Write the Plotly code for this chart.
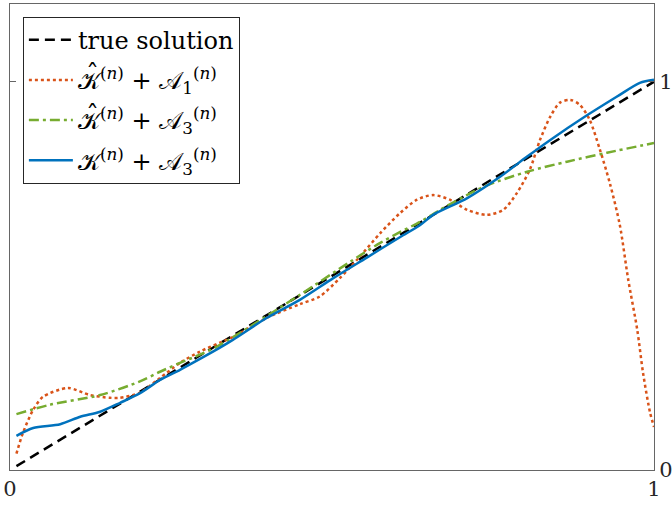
import plotly.graph_objects as go

true_x = [0.01, 1.0]
true_y = [0.01, 1.0]

k1_x = [0.01, 0.02, 0.036, 0.051, 0.09, 0.124, 0.155, 0.17, 0.2, 0.233, 0.264, 0.295, 0.326, 0.346,
        0.399, 0.45, 0.481, 0.512, 0.543, 0.575, 0.606, 0.632, 0.657, 0.683, 0.71, 0.74, 0.766,
        0.787, 0.807, 0.823, 0.839, 0.854, 0.870, 0.885, 0.9, 0.916, 0.932, 0.947, 0.96, 0.974,
        0.983, 0.994, 1.0]
k1_y = [0.042, 0.095, 0.155, 0.188, 0.211, 0.193, 0.186, 0.186, 0.198, 0.237, 0.276, 0.305, 0.328,
        0.342, 0.392, 0.427, 0.447, 0.494, 0.549, 0.61, 0.662, 0.696, 0.708, 0.696, 0.67, 0.657,
        0.67, 0.713, 0.773, 0.85, 0.91, 0.946, 0.953, 0.94, 0.902, 0.825, 0.735, 0.63, 0.49, 0.361,
        0.25, 0.147, 0.111]

k3_x = [0.01, 0.062, 0.14, 0.2, 0.233, 0.264, 0.295, 0.326, 0.45, 0.528, 0.575, 0.606, 0.637, 0.668,
        0.735, 0.803, 0.865, 0.927, 1.0]
k3_y = [0.144, 0.168, 0.193, 0.227, 0.253, 0.276, 0.297, 0.322, 0.451, 0.536, 0.585, 0.613, 0.639,
        0.67, 0.729, 0.768, 0.794, 0.817, 0.842]

b_x = [0.01, 0.036, 0.078, 0.109, 0.14, 0.171, 0.202, 0.233, 0.264, 0.295, 0.326, 0.346, 0.399, 0.45,
       0.502, 0.554, 0.606, 0.637, 0.657, 0.71, 0.761, 0.803, 0.839, 0.89, 0.942, 0.978, 1.0]
b_y = [0.088, 0.108, 0.118, 0.137, 0.15, 0.173, 0.198, 0.232, 0.258, 0.286, 0.315, 0.335, 0.392, 0.438,
       0.494, 0.547, 0.6, 0.631, 0.657, 0.7, 0.755, 0.807, 0.85, 0.907, 0.961, 0.997, 1.005]

x_ticks = [0, 1]
y_ticks = [0, 1]
x_labels = ["0", "1"]
y_labels = ["0", "1"]

names = [
    "true solution",
    "\U0001D4A6<sup>(<i>n</i>)</sup> + \U0001D49C<sub>1</sub><sup>(<i>n</i>)</sup>",
    "\U0001D4A6<sup>(<i>n</i>)</sup> + \U0001D49C<sub>3</sub><sup>(<i>n</i>)</sup>",
    "\U0001D4A6<sup>(<i>n</i>)</sup> + \U0001D49C<sub>3</sub><sup>(<i>n</i>)</sup>",
]
hat_text = "\u02C6"

FONT = "DejaVu Serif, Liberation Serif, serif"

fig = go.Figure()
fig.add_trace(go.Scatter(x=true_x, y=true_y, mode="lines", name=names[0], legendgroup="g0",
                         line=dict(color="black", width=2.5, dash="10px,6px")))
fig.add_trace(go.Scatter(x=k1_x, y=k1_y, mode="lines", name=names[1], legendgroup="g1",
                         line=dict(color="#D95319", width=2.5, dash="dot", shape="spline", smoothing=0.8)))
fig.add_trace(go.Scatter(x=k3_x, y=k3_y, mode="lines", name=names[2], legendgroup="g2",
                         line=dict(color="#77AC30", width=2.5, dash="10px,4px,3px,4px", shape="spline", smoothing=0.8)))
fig.add_trace(go.Scatter(x=b_x, y=b_y, mode="lines", name=names[3], legendgroup="g3",
                         line=dict(color="#0072BD", width=2.5, shape="spline", smoothing=0.8)))

axis_common = dict(showgrid=False, zeroline=False, showline=True, linecolor="#666666", linewidth=1,
                   mirror="ticks", ticks="inside", ticklen=6, tickcolor="#666666",
                   tickfont=dict(family=FONT, size=21, color="#262626"), automargin=False)

fig.update_xaxes(range=[0, 1], tickvals=x_ticks, ticktext=x_labels, **axis_common)
fig.update_yaxes(range=[0, 1.2], tickvals=y_ticks, ticktext=y_labels, side="right", **axis_common)

# hats over the calligraphic K in legend rows 2 and 3 (paper coords)
for hy in [(470 - 74) / 466, (470 - 115) / 466]:
    fig.add_annotation(x=(92 - 10) / 644, y=hy, xref="paper", yref="paper", text=hat_text,
                       showarrow=False, font=dict(family=FONT, size=26, color="black"),
                       xanchor="center", yanchor="middle")

fig.update_layout(
    width=672, height=508,
    margin=dict(l=10, r=18, t=4, b=38),
    plot_bgcolor="white", paper_bgcolor="white",
    font=dict(family=FONT, size=21, color="black"),
    legend=dict(x=0.02, y=0.973, xanchor="left", yanchor="top",
                bgcolor="white", bordercolor="#262626", borderwidth=1,
                itemwidth=44, font=dict(family=FONT, size=24), tracegroupgap=6),
    showlegend=True,
)

fig.write_html("out.html", config={"displayModeBar": False},
               post_script="document.body.style.margin='0';document.body.style.overflow='hidden';")
